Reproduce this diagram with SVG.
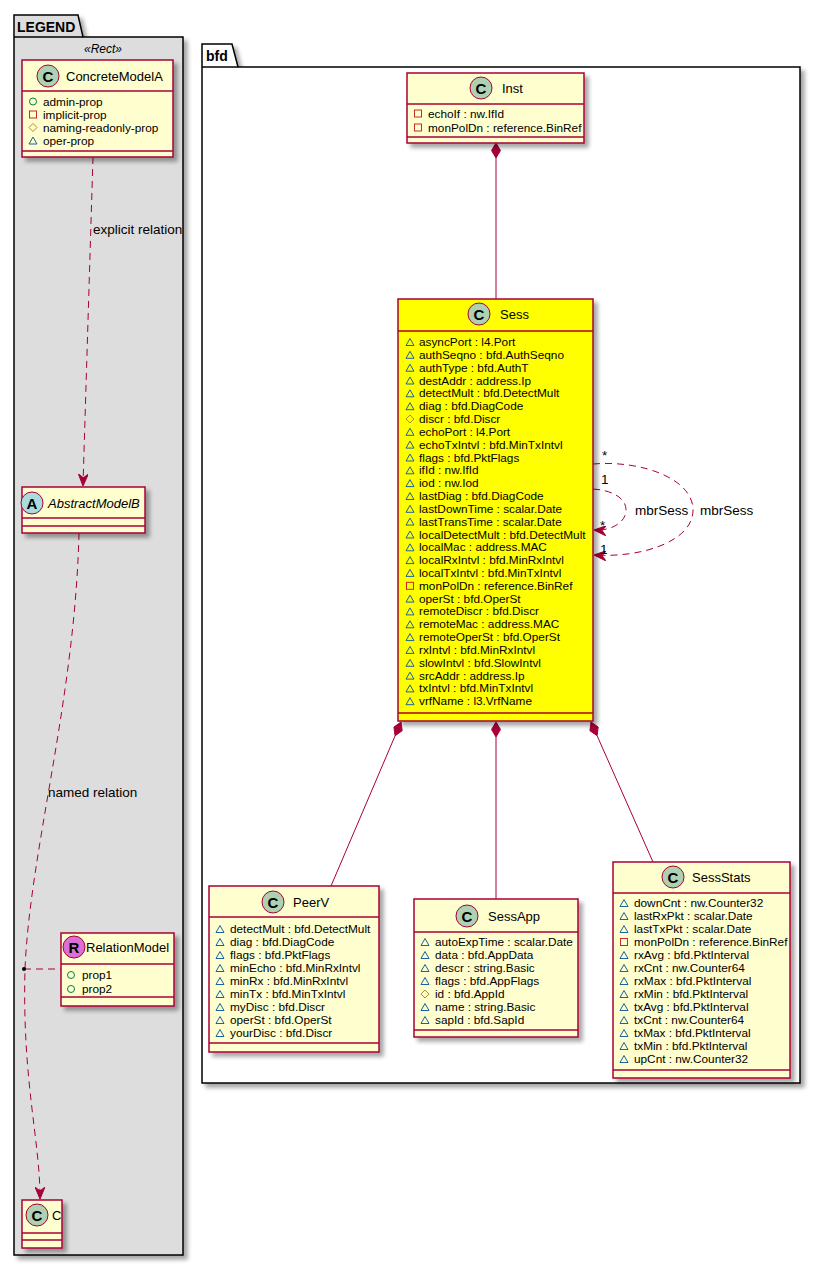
<svg xmlns="http://www.w3.org/2000/svg" width="820" height="1267" viewBox="0 0 820 1267">
<style>
text{font-family:"Liberation Sans",Arial,sans-serif;fill:#000}
.pkgt{font-size:14px;font-weight:bold}
.nm{font-size:13px}
.at{font-size:11.8px}
.lb{font-size:13.5px}
.st{font-size:12px;font-style:italic}
.box{fill:#FEFECE;stroke:#A80036;stroke-width:1.5}
.sbox{fill:#FFFF00;stroke:#A80036;stroke-width:1.5}
.sep{stroke:#A80036;stroke-width:1.5}
.spot{stroke:#A80036;stroke-width:1}
.sl{font-size:15px;font-weight:bold;text-anchor:middle}
.pkg{stroke:#000;stroke-width:1.5}
.cn{fill:none;stroke:#A80036;stroke-width:1}
.dash{stroke-dasharray:7,5}
.dia{fill:#A80036;stroke:#A80036;stroke-width:1}
</style>
<defs>
<filter id="sh" x="-10%" y="-10%" width="130%" height="130%">
<feGaussianBlur in="SourceAlpha" stdDeviation="2" result="b"/>
<feOffset in="b" dx="4" dy="4" result="o"/>
<feComponentTransfer in="o" result="s"><feFuncA type="linear" slope="0.35"/></feComponentTransfer>
<feMerge><feMergeNode in="s"/><feMergeNode in="SourceGraphic"/></feMerge>
</filter>
<marker id="arr" viewBox="0 0 12 10" refX="11" refY="5" markerWidth="12" markerHeight="10" markerUnits="userSpaceOnUse" orient="auto">
<path d="M0,0 L12,5 L0,10 L4,5 Z" fill="#A80036" stroke="#A80036" stroke-width="1"/>
</marker>
<circle id="pub" r="3.5" fill="none" stroke="#038048" stroke-width="1"/>
<rect id="priv" x="-3.5" y="-3.5" width="7" height="7" fill="none" stroke="#C82930" stroke-width="1"/>
<polygon id="prot" points="0,-4 4,0 0,4 -4,0" fill="none" stroke="#B38D22" stroke-width="1"/>
<polygon id="pkg" points="0,-3.5 4,3.5 -4,3.5" fill="none" stroke="#1963A0" stroke-width="1"/>
</defs>
<rect width="820" height="1267" fill="#FFFFFF"/>

<g id="pkg-legend">
<path class="pkg" filter="url(#sh)" fill="#DDDDDD" d="M14,15 L78,15 L83,37 L183,37 L183,1255 L14,1255 Z"/>
<line class="pkg" x1="14" y1="37" x2="83" y2="37"/>
<text class="pkgt" x="17" y="32">LEGEND</text>
<text class="st" x="103" y="53" text-anchor="middle">«Rect»</text>
</g>

<g id="pkg-bfd">
<path class="pkg" filter="url(#sh)" fill="#FFFFFF" d="M202,44 L232,44 L238,67 L800,67 L800,1083 L202,1083 Z"/>
<line class="pkg" x1="202" y1="67" x2="238" y2="67"/>
<text class="pkgt" x="206" y="61">bfd</text>
</g>

<g id="connectors">
<path class="cn dash" d="M93,157 L83,485" marker-end="url(#arr)"/>
<text class="lb" x="93" y="234">explicit relation</text>
<path class="cn dash" d="M79,533 C75,700 30,850 25,969 C22,1080 40,1140 40,1198" marker-end="url(#arr)"/>
<text class="lb" x="48" y="797">named relation</text>
<line class="cn dash" x1="24" y1="969" x2="61" y2="969"/>
<circle cx="24" cy="969" r="2" fill="#000"/>

<polygon class="dia" points="496,143 500.5,150.5 496,158 491.5,150.5"/>
<line class="cn" x1="496" y1="158" x2="496" y2="299"/>

<polygon class="dia" points="401,722 402.2,730.7 395.1,735.8 393.9,727.1"/>
<line class="cn" x1="395.1" y1="735.8" x2="331" y2="886"/>
<polygon class="dia" points="496,722 500.5,729.5 496,737 491.5,729.5"/>
<line class="cn" x1="496" y1="737" x2="496" y2="899"/>
<polygon class="dia" points="591,722 598.2,727 597.1,735.7 589.9,730.7"/>
<line class="cn" x1="597.1" y1="735.7" x2="653" y2="862"/>

<path class="cn dash" d="M593,464 C640,460 693,478 693,510 C693,542 640,558 595,555" marker-end="url(#arr)"/>
<path class="cn dash" d="M593,489 C610,490 626,497 626,510 C626,523 610,531 595,530" marker-end="url(#arr)"/>
<text class="lb" x="602" y="460">*</text>
<text class="lb" x="601" y="484">1</text>
<text class="lb" x="600" y="530">*</text>
<text class="lb" x="600" y="554">1</text>
<text class="lb" x="635" y="515">mbrSess</text>
<text class="lb" x="700" y="515">mbrSess</text>
</g>

<g id="ConcreteModelA">
<rect class="box" filter="url(#sh)" x="22" y="60" width="151" height="97"/>
<circle class="spot" cx="48" cy="76" r="11" fill="#ADD1B2"/>
<text class="sl" x="48" y="81.5">C</text>
<text class="nm" x="66" y="80.5">ConcreteModelA</text>
<line class="sep" x1="22" y1="91" x2="173" y2="91"/>
<use href="#pub" x="33" y="101.5"/><text class="at" x="43" y="105.5">admin-prop</text>
<use href="#priv" x="33" y="114.5"/><text class="at" x="43" y="118.5">implicit-prop</text>
<use href="#prot" x="33" y="127.5"/><text class="at" x="43" y="131.5">naming-readonly-prop</text>
<use href="#pkg" x="33" y="140.5"/><text class="at" x="43" y="144.5">oper-prop</text>
<line class="sep" x1="22" y1="151" x2="173" y2="151"/>
</g>

<g id="AbstractModelB">
<rect class="box" filter="url(#sh)" x="22" y="487" width="123" height="46"/>
<circle class="spot" cx="32" cy="503" r="11" fill="#A9DCDF"/>
<text class="sl" x="32" y="508.5">A</text>
<text class="nm" x="48" y="507.5" font-style="italic">AbstractModelB</text>
<line class="sep" x1="22" y1="518" x2="145" y2="518"/>
<line class="sep" x1="22" y1="526" x2="145" y2="526"/>
</g>

<g id="RelationModel">
<rect class="box" filter="url(#sh)" x="61" y="933" width="113" height="73"/>
<circle class="spot" cx="74" cy="947" r="11" fill="#DA70D6"/>
<text class="sl" x="74" y="952.5">R</text>
<text class="nm" x="86" y="951.5">RelationModel</text>
<line class="sep" x1="61" y1="964" x2="174" y2="964"/>
<use href="#pub" x="71" y="975"/><text class="at" x="82" y="979">prop1</text>
<use href="#pub" x="71" y="989"/><text class="at" x="82" y="993">prop2</text>
<line class="sep" x1="61" y1="997" x2="174" y2="997"/>
</g>

<g id="C">
<rect class="box" filter="url(#sh)" x="22" y="1200" width="40" height="48"/>
<circle class="spot" cx="37" cy="1215" r="11" fill="#ADD1B2"/>
<text class="sl" x="37" y="1220.5">C</text>
<text class="nm" x="52" y="1219.5">C</text>
<line class="sep" x1="22" y1="1233" x2="62" y2="1233"/>
<line class="sep" x1="22" y1="1240" x2="62" y2="1240"/>
</g>

<g id="Inst">
<rect class="box" filter="url(#sh)" x="407" y="73" width="177" height="70"/>
<circle class="spot" cx="481" cy="88" r="11" fill="#ADD1B2"/>
<text class="sl" x="481" y="93.5">C</text>
<text class="nm" x="502" y="92.5">Inst</text>
<line class="sep" x1="407" y1="104" x2="584" y2="104"/>
<use href="#priv" x="418" y="113.5"/><text class="at" x="428" y="117.5">echoIf : nw.IfId</text>
<use href="#priv" x="418" y="127.5"/><text class="at" x="428" y="131.5">monPolDn : reference.BinRef</text>
<line class="sep" x1="407" y1="137" x2="584" y2="137"/>
</g>

<g id="Sess">
<rect class="sbox" filter="url(#sh)" x="398" y="299" width="195" height="422"/>
<circle class="spot" cx="479" cy="314" r="11" fill="#ADD1B2"/>
<text class="sl" x="479" y="319.5">C</text>
<text class="nm" x="500" y="319">Sess</text>
<line class="sep" x1="398" y1="331" x2="593" y2="331"/>
<use href="#pkg" x="410" y="342"/><text class="at" x="419" y="346">asyncPort : l4.Port</text>
<use href="#pkg" x="410" y="354.8"/><text class="at" x="419" y="358.8">authSeqno : bfd.AuthSeqno</text>
<use href="#pkg" x="410" y="367.7"/><text class="at" x="419" y="371.7">authType : bfd.AuthT</text>
<use href="#pkg" x="410" y="380.5"/><text class="at" x="419" y="384.5">destAddr : address.Ip</text>
<use href="#pkg" x="410" y="393.3"/><text class="at" x="419" y="397.3">detectMult : bfd.DetectMult</text>
<use href="#pkg" x="410" y="406.2"/><text class="at" x="419" y="410.2">diag : bfd.DiagCode</text>
<use href="#prot" x="410" y="419"/><text class="at" x="419" y="423">discr : bfd.Discr</text>
<use href="#pkg" x="410" y="431.8"/><text class="at" x="419" y="435.8">echoPort : l4.Port</text>
<use href="#pkg" x="410" y="444.6"/><text class="at" x="419" y="448.6">echoTxIntvl : bfd.MinTxIntvl</text>
<use href="#pkg" x="410" y="457.5"/><text class="at" x="419" y="461.5">flags : bfd.PktFlags</text>
<use href="#pkg" x="410" y="470.3"/><text class="at" x="419" y="474.3">ifId : nw.IfId</text>
<use href="#pkg" x="410" y="483.1"/><text class="at" x="419" y="487.1">iod : nw.Iod</text>
<use href="#pkg" x="410" y="496"/><text class="at" x="419" y="500">lastDiag : bfd.DiagCode</text>
<use href="#pkg" x="410" y="508.8"/><text class="at" x="419" y="512.8">lastDownTime : scalar.Date</text>
<use href="#pkg" x="410" y="521.6"/><text class="at" x="419" y="525.6">lastTransTime : scalar.Date</text>
<use href="#pkg" x="410" y="534.5"/><text class="at" x="419" y="538.5">localDetectMult : bfd.DetectMult</text>
<use href="#pkg" x="410" y="547.3"/><text class="at" x="419" y="551.3">localMac : address.MAC</text>
<use href="#pkg" x="410" y="560.1"/><text class="at" x="419" y="564.1">localRxIntvl : bfd.MinRxIntvl</text>
<use href="#pkg" x="410" y="572.9"/><text class="at" x="419" y="576.9">localTxIntvl : bfd.MinTxIntvl</text>
<use href="#priv" x="410" y="585.8"/><text class="at" x="419" y="589.8">monPolDn : reference.BinRef</text>
<use href="#pkg" x="410" y="598.6"/><text class="at" x="419" y="602.6">operSt : bfd.OperSt</text>
<use href="#pkg" x="410" y="611.4"/><text class="at" x="419" y="615.4">remoteDiscr : bfd.Discr</text>
<use href="#pkg" x="410" y="624.3"/><text class="at" x="419" y="628.3">remoteMac : address.MAC</text>
<use href="#pkg" x="410" y="637.1"/><text class="at" x="419" y="641.1">remoteOperSt : bfd.OperSt</text>
<use href="#pkg" x="410" y="649.9"/><text class="at" x="419" y="653.9">rxIntvl : bfd.MinRxIntvl</text>
<use href="#pkg" x="410" y="662.8"/><text class="at" x="419" y="666.8">slowIntvl : bfd.SlowIntvl</text>
<use href="#pkg" x="410" y="675.6"/><text class="at" x="419" y="679.6">srcAddr : address.Ip</text>
<use href="#pkg" x="410" y="688.4"/><text class="at" x="419" y="692.4">txIntvl : bfd.MinTxIntvl</text>
<use href="#pkg" x="410" y="701.2"/><text class="at" x="419" y="705.2">vrfName : l3.VrfName</text>
<line class="sep" x1="398" y1="713" x2="593" y2="713"/>
</g>

<g id="PeerV">
<rect class="box" filter="url(#sh)" x="209" y="886" width="170" height="166"/>
<circle class="spot" cx="273" cy="902" r="11" fill="#ADD1B2"/>
<text class="sl" x="273" y="907.5">C</text>
<text class="nm" x="293" y="906.5">PeerV</text>
<line class="sep" x1="209" y1="917" x2="379" y2="917"/>
<use href="#pkg" x="220" y="929"/><text class="at" x="230" y="933">detectMult : bfd.DetectMult</text>
<use href="#pkg" x="220" y="942"/><text class="at" x="230" y="946">diag : bfd.DiagCode</text>
<use href="#pkg" x="220" y="955"/><text class="at" x="230" y="959">flags : bfd.PktFlags</text>
<use href="#pkg" x="220" y="968"/><text class="at" x="230" y="972">minEcho : bfd.MinRxIntvl</text>
<use href="#pkg" x="220" y="981"/><text class="at" x="230" y="985">minRx : bfd.MinRxIntvl</text>
<use href="#pkg" x="220" y="994"/><text class="at" x="230" y="998">minTx : bfd.MinTxIntvl</text>
<use href="#pkg" x="220" y="1007"/><text class="at" x="230" y="1011">myDisc : bfd.Discr</text>
<use href="#pkg" x="220" y="1020"/><text class="at" x="230" y="1024">operSt : bfd.OperSt</text>
<use href="#pkg" x="220" y="1033"/><text class="at" x="230" y="1037">yourDisc : bfd.Discr</text>
<line class="sep" x1="209" y1="1043" x2="379" y2="1043"/>
</g>

<g id="SessApp">
<rect class="box" filter="url(#sh)" x="414" y="899" width="164" height="138"/>
<circle class="spot" cx="467" cy="916" r="11" fill="#ADD1B2"/>
<text class="sl" x="467" y="921.5">C</text>
<text class="nm" x="488" y="920.5">SessApp</text>
<line class="sep" x1="414" y1="932" x2="578" y2="932"/>
<use href="#pkg" x="425" y="942"/><text class="at" x="435" y="946">autoExpTime : scalar.Date</text>
<use href="#pkg" x="425" y="955"/><text class="at" x="435" y="959">data : bfd.AppData</text>
<use href="#pkg" x="425" y="968"/><text class="at" x="435" y="972">descr : string.Basic</text>
<use href="#pkg" x="425" y="981"/><text class="at" x="435" y="985">flags : bfd.AppFlags</text>
<use href="#prot" x="425" y="994"/><text class="at" x="435" y="998">id : bfd.AppId</text>
<use href="#pkg" x="425" y="1007"/><text class="at" x="435" y="1011">name : string.Basic</text>
<use href="#pkg" x="425" y="1020"/><text class="at" x="435" y="1024">sapId : bfd.SapId</text>
<line class="sep" x1="414" y1="1030" x2="578" y2="1030"/>
</g>

<g id="SessStats">
<rect class="box" filter="url(#sh)" x="613" y="862" width="177" height="216"/>
<circle class="spot" cx="673" cy="877" r="11" fill="#ADD1B2"/>
<text class="sl" x="673" y="882.5">C</text>
<text class="nm" x="692" y="881.5">SessStats</text>
<line class="sep" x1="613" y1="893" x2="790" y2="893"/>
<use href="#pkg" x="624" y="903"/><text class="at" x="634" y="907">downCnt : nw.Counter32</text>
<use href="#pkg" x="624" y="916"/><text class="at" x="634" y="920">lastRxPkt : scalar.Date</text>
<use href="#pkg" x="624" y="929"/><text class="at" x="634" y="933">lastTxPkt : scalar.Date</text>
<use href="#priv" x="624" y="942"/><text class="at" x="634" y="946">monPolDn : reference.BinRef</text>
<use href="#pkg" x="624" y="955"/><text class="at" x="634" y="959">rxAvg : bfd.PktInterval</text>
<use href="#pkg" x="624" y="968"/><text class="at" x="634" y="972">rxCnt : nw.Counter64</text>
<use href="#pkg" x="624" y="981"/><text class="at" x="634" y="985">rxMax : bfd.PktInterval</text>
<use href="#pkg" x="624" y="994"/><text class="at" x="634" y="998">rxMin : bfd.PktInterval</text>
<use href="#pkg" x="624" y="1007"/><text class="at" x="634" y="1011">txAvg : bfd.PktInterval</text>
<use href="#pkg" x="624" y="1020"/><text class="at" x="634" y="1024">txCnt : nw.Counter64</text>
<use href="#pkg" x="624" y="1033"/><text class="at" x="634" y="1037">txMax : bfd.PktInterval</text>
<use href="#pkg" x="624" y="1046"/><text class="at" x="634" y="1050">txMin : bfd.PktInterval</text>
<use href="#pkg" x="624" y="1059"/><text class="at" x="634" y="1063">upCnt : nw.Counter32</text>
<line class="sep" x1="613" y1="1070" x2="790" y2="1070"/>
</g>
</svg>
